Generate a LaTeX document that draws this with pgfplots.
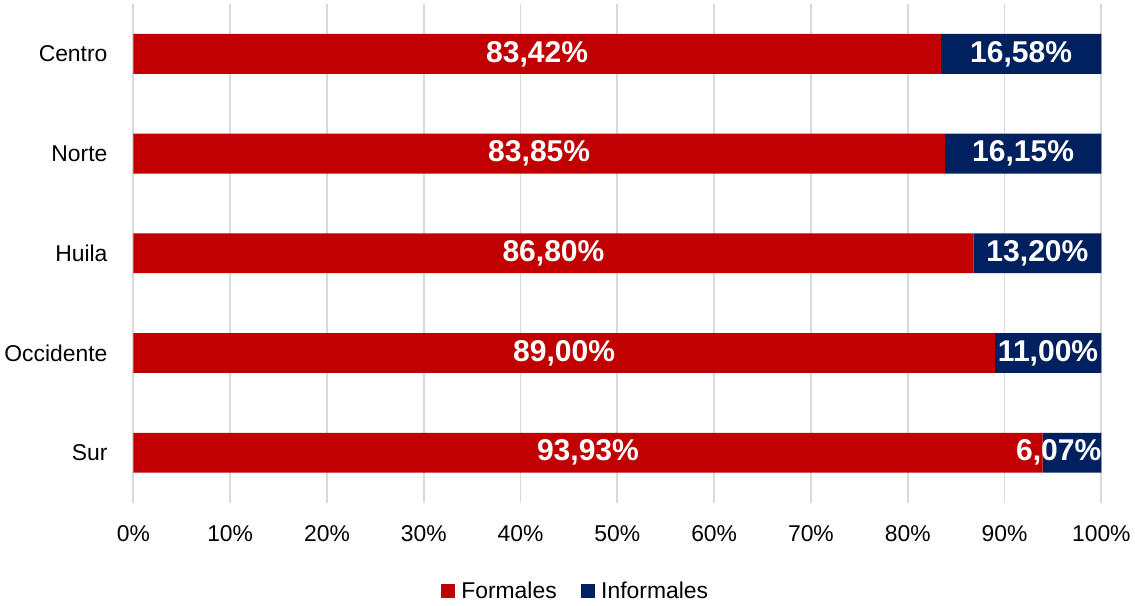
\documentclass[border=0pt]{standalone}
\usepackage{fontspec}
\setmainfont{Liberation Sans}
\usepackage{pgfplots}
\pgfplotsset{compat=1.18}
\usepackage{pgfplotstable}
\definecolor{formred}{HTML}{C00000}
\definecolor{infblue}{HTML}{002060}
\definecolor{gridgray}{HTML}{D9D9D9}

\pgfplotstableread{
idx f i
0 83.42 16.58
1 83.85 16.15
2 86.80 13.20
3 89.00 11.00
4 93.93 6.07
}\datatable

\pgfplotsset{
  common/.style={
    width=728pt, height=375pt, scale only axis,
    xmin=0, xmax=100, ymin=-0.5, ymax=4.5, y dir=reverse,
  }
}

\begin{document}
\begin{tikzpicture}
\begin{axis}[
  common,
  xbar stacked, bar width=30pt,
  ytick={0,...,4}, yticklabels={Centro,Norte,Huila,Occidente,Sur},
  xtick={0,10,...,100},
  xticklabel={\pgfmathprintnumber{\tick}\%},
  /pgf/number format/assume math mode=true,
  xmajorgrids, major grid style={gridgray, line width=1.4pt},
  axis line style={draw=none}, tick style={draw=none},
  tick label style={font=\fontsize{17.2}{20}\selectfont},
  yticklabel style={xshift=-16pt},
  xticklabel style={yshift=-13.5pt},
  legend style={at={(0.457,-0.148)}, anchor=north, draw=none, legend columns=2,
    font=\fontsize{17.2}{20}\selectfont,
    /tikz/every odd column/.append style={column sep=3pt},
    /tikz/every even column/.append style={column sep=16pt}},
  legend image code/.code={\fill[#1] (0pt,-5pt) rectangle (10.5pt,5.5pt);},
]
\addplot[fill=formred, draw=none] table[x=f, y=idx]{\datatable};
\addlegendentry{Formales}
\addplot[fill=infblue, draw=none] table[x=i, y=idx]{\datatable};
\addlegendentry{Informales}
\end{axis}
\begin{axis}[
  common, hide axis,
  point meta=explicit,
  /pgf/number format/assume math mode=true,
  nodes near coords={\pgfmathprintnumber[fixed,fixed zerofill,precision=2,use comma]{\pgfplotspointmeta}\%},
  every node near coord/.append style={font=\fontsize{22.6}{26}\bfseries\selectfont, text=white, anchor=center},
]
\addplot[only marks, mark=none] table[x expr=\thisrow{f}/2, y=idx, meta=f]{\datatable};
\addplot[only marks, mark=none] table[x expr={min(\thisrow{f}+\thisrow{i}/2,95.6)}, y=idx, meta=i]{\datatable};
\end{axis}
\path (0,378pt);
\end{tikzpicture}
\end{document}
